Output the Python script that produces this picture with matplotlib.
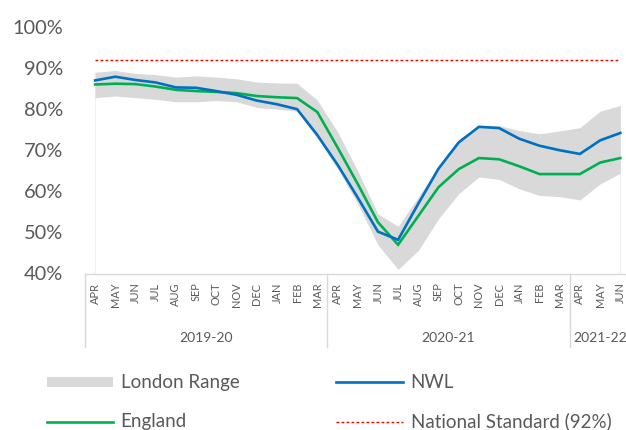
import matplotlib
matplotlib.use("Agg")
import matplotlib.pyplot as plt
from matplotlib.transforms import blended_transform_factory
from matplotlib.patches import Rectangle
from matplotlib.lines import Line2D

plt.rcParams['font.family'] = ['Lato', 'DejaVu Sans']

months = ['APR', 'MAY', 'JUN', 'JUL', 'AUG', 'SEP', 'OCT', 'NOV', 'DEC', 'JAN', 'FEB', 'MAR',
          'APR', 'MAY', 'JUN', 'JUL', 'AUG', 'SEP', 'OCT', 'NOV', 'DEC', 'JAN', 'FEB', 'MAR',
          'APR', 'MAY', 'JUN']
years = ['2019-20', '2020-21', '2021-22']
year_counts = [12, 12, 3]

nwl = [87.0, 87.9, 87.1, 86.5, 85.3, 85.2, 84.4, 83.5, 82.1, 81.2, 80.0, 73.7,
       66.5, 58.5, 50.2, 48.2, 57.0, 65.5, 71.9, 75.7, 75.4, 72.8, 71.1, 70.0,
       69.1, 72.4, 74.2]
england = [86.0, 86.2, 86.1, 85.5, 84.7, 84.4, 84.2, 83.9, 83.2, 82.9, 82.7, 79.3,
           70.7, 61.8, 52.5, 47.0, 54.0, 61.0, 65.4, 68.1, 67.8, 66.1, 64.2, 64.2,
           64.2, 67.0, 68.1]
london_high = [89.0, 89.4, 88.7, 88.4, 87.8, 88.1, 87.8, 87.4, 86.6, 86.4, 86.3, 82.2,
               74.5, 65.0, 54.5, 51.5, 58.6, 66.2, 72.7, 76.0, 76.0, 74.8, 74.0, 74.7,
               75.5, 79.5, 80.9]
london_low = [82.8, 83.2, 82.8, 82.4, 81.8, 81.8, 82.1, 81.8, 80.4, 80.0, 79.5, 73.0,
              65.5, 57.0, 47.0, 41.0, 45.6, 53.3, 59.4, 63.5, 62.9, 60.6, 59.0, 58.7,
              57.9, 61.8, 64.4]
national_standard = [92.0] * len(months)
yticks = [40, 50, 60, 70, 80, 90, 100]
ytick_labels = ['40%', '50%', '60%', '70%', '80%', '90%', '100%']

W, H = 626, 430
DPI = 100
fig = plt.figure(figsize=(W / DPI, H / DPI), dpi=DPI)

TXT = '#595959'
GRID = '#D9D9D9'

left_px, right_px = 85, 85 + 27 * 20.2
bottom_px, top_px = 273.5, 27
ax = fig.add_axes([left_px / W, 1 - bottom_px / H,
                   (right_px - left_px) / W, (bottom_px - top_px) / H])

x = list(range(len(months)))

ax.vlines([x[0], x[-1]], 40, [london_high[0], london_high[-1]], color='#F0F0F0', lw=0.8, zorder=0)
ax.fill_between(x, london_low, london_high, color='#D9D9D9', lw=0, zorder=1)
ax.plot(x, national_standard, color='#FF0000', lw=1.0, linestyle=(0, (2, 1.6)), zorder=2)
ax.plot(x, england, color='#00B050', lw=1.9, zorder=3, solid_joinstyle='miter')
ax.plot(x, nwl, color='#0070C0', lw=1.9, zorder=4, solid_joinstyle='miter')

ax.set_xlim(-0.5, len(months) - 0.5)
ax.set_ylim(40, 100)
for s in ['top', 'right', 'left']:
    ax.spines[s].set_visible(False)
ax.spines['bottom'].set_color(GRID)
ax.spines['bottom'].set_linewidth(1.0)

ax.set_yticks(yticks)
ax.set_yticklabels(ytick_labels)
ax.tick_params(axis='y', length=0, pad=16, labelsize=14.4, labelcolor=TXT)

ax.set_xticks(x)
ax.set_xticklabels(months, rotation=90)
ax.tick_params(axis='x', length=0, pad=6.5, labelsize=7.9, labelcolor=TXT)

# multi-level category axis
trans = blended_transform_factory(ax.transData, fig.transFigure)
def fy(px):
    return 1 - px / H

start = -0.5
bounds = [start]
for c in year_counts:
    start += c
    bounds.append(start)
for b in bounds:
    ax.add_line(Line2D([b, b], [fy(273.5), fy(347)], transform=trans, color=GRID,
                       lw=1.0, clip_on=False))
for i, yr in enumerate(years):
    cx = (bounds[i] + bounds[i + 1]) / 2
    ax.text(cx, fy(338), yr, transform=trans, ha='center', va='center',
            fontsize=10, color=TXT, clip_on=False)

# legend
def px2fig(xp, yp):
    return xp / W, 1 - yp / H

fig.patches.append(Rectangle(px2fig(47.3, 387), 65.4 / W, 10 / H,
                             transform=fig.transFigure, color='#D9D9D9', lw=0))
fig.lines.append(Line2D([336 / W, 402.7 / W], [fy(381.7)] * 2, transform=fig.transFigure,
                        color='#0070C0', lw=1.9))
fig.lines.append(Line2D([47.3 / W, 112.7 / W], [fy(421.7)] * 2, transform=fig.transFigure,
                        color='#00B050', lw=1.9))
fig.lines.append(Line2D([336 / W, 402.7 / W], [fy(422)] * 2, transform=fig.transFigure,
                        color='#FF0000', lw=1.0, linestyle=(0, (2, 1.6))))
leg_fs = 13.5
fig.text(120.7 / W, fy(388.3), 'London Range', fontsize=leg_fs, color=TXT, va='baseline')
fig.text(410.7 / W, fy(388.3), 'NWL', fontsize=leg_fs, color=TXT, va='baseline')
fig.text(120.7 / W, fy(427), 'England', fontsize=leg_fs, color=TXT, va='baseline')
fig.text(410.7 / W, fy(427), 'National Standard (92%)', fontsize=leg_fs, color=TXT, va='baseline')

fig.savefig('out.png', dpi=DPI, facecolor='white')
